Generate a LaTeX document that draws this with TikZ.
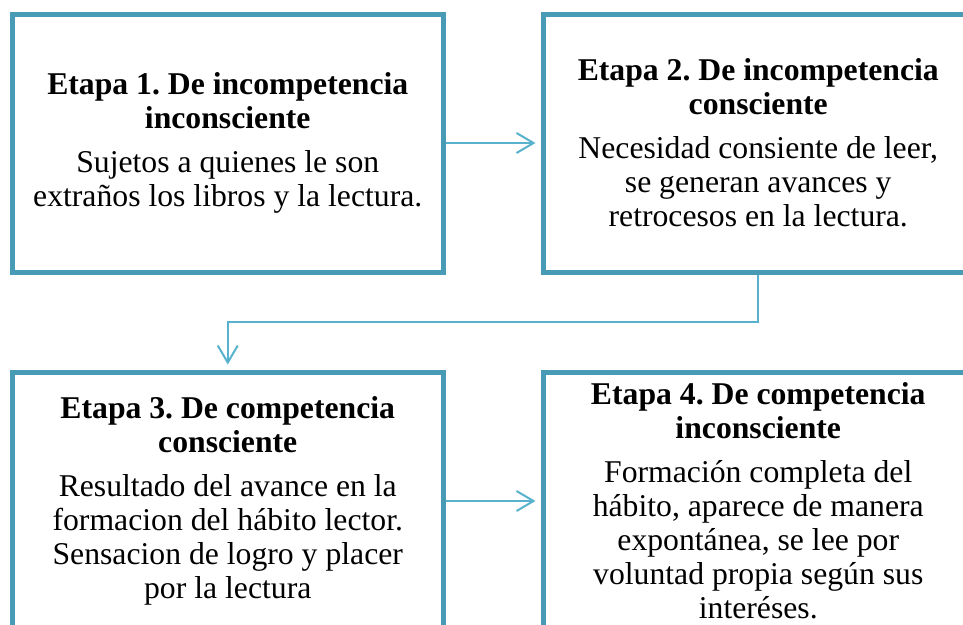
\documentclass[tikz,border=0pt]{standalone}
\usepackage{fontspec}
\setmainfont{Liberation Serif}
\usetikzlibrary{positioning,calc,arrows.meta}
\frenchspacing

\definecolor{borde}{RGB}{71,155,181}
\definecolor{enlace}{RGB}{88,178,205}

\begin{document}
\begin{tikzpicture}[x=1pt,y=-1pt,
  etapa/.style={draw=borde,line width=5pt,minimum width=430.5pt,minimum height=258pt,
    align=center,font=\fontsize{31.7}{34}\selectfont,inner sep=0pt},
  flecha/.style={draw=enlace,line width=2pt,-{Straight Barb[length=17pt,width=20pt]},shorten >=5pt}]

\useasboundingbox (0,0) rectangle (963,624);
\clip (0,0) rectangle (963,624);

\node[etapa] (e1) at (227.75,143) {\textbf{Etapa 1. De incompetencia}\\\textbf{inconsciente}\\[10pt]
  Sujetos a quienes le son\\extraños los libros y la lectura.};
\node[etapa,right=95pt of e1] (e2) {\textbf{Etapa 2. De incompetencia}\\\textbf{consciente}\\[10pt]
  Necesidad consiente de leer,\\se generan avances y\\retrocesos en la lectura.};
\node[etapa,below=95pt of e1] (e3) {\textbf{Etapa 3. De competencia}\\\textbf{consciente}\\[10pt]
  Resultado del avance en la\\formacion del hábito lector.\\Sensacion de logro y placer\\por la lectura};
\node[etapa,right=95pt of e3] (e4) {\textbf{Etapa 4. De competencia}\\\textbf{inconsciente}\\[10pt]
  Formación completa del\\hábito, aparece de manera\\expontánea, se lee por\\voluntad propia según sus\\interéses.};

% conectores
\coordinate (codo) at ($(e1.south)!.5!(e3.north)$);
\draw[flecha] (e1.east) -- (e2.west);
\draw[flecha] (e2.south) |- (codo) -- (e3.north);
\draw[flecha] (e3.east) -- (e4.west);

\end{tikzpicture}
\end{document}
